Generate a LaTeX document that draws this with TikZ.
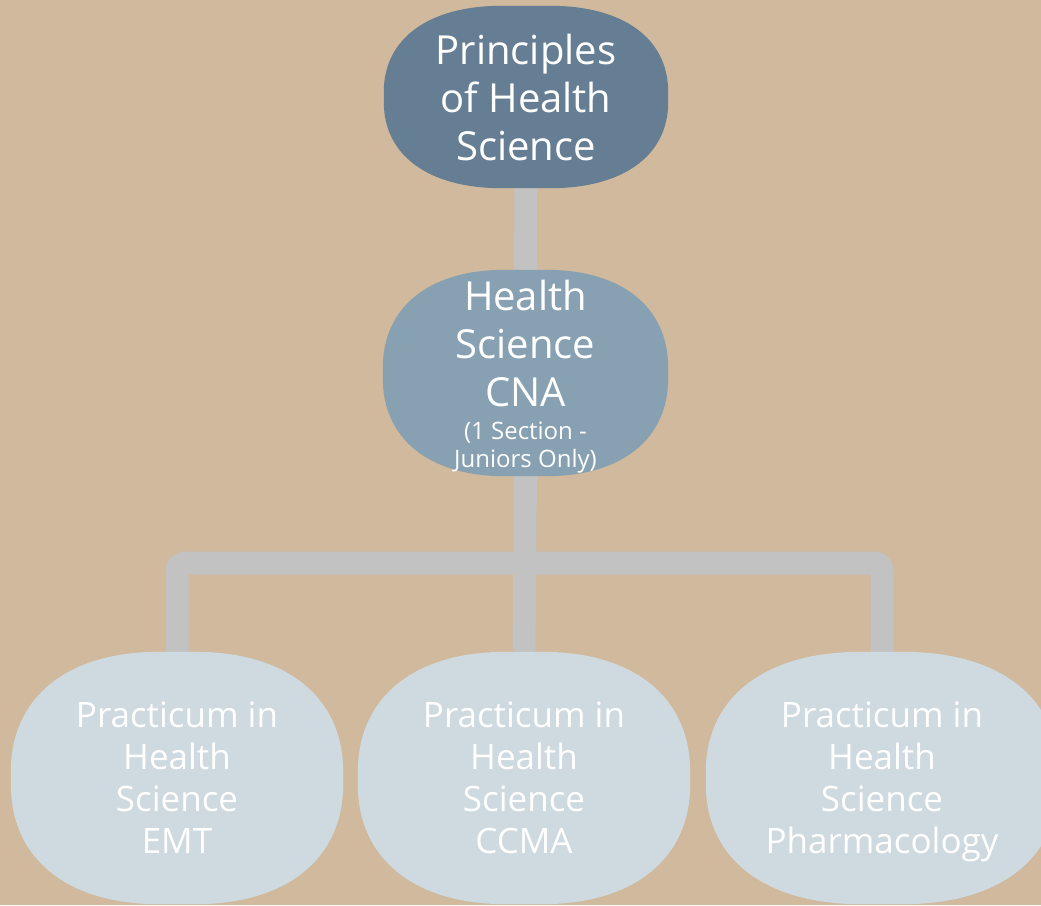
\documentclass[tikz,border=0pt]{standalone}
\usepackage{fontspec}
\setmainfont{Open Sans}
\usetikzlibrary{calc}
\definecolor{bgtan}{HTML}{D0B99C}
\definecolor{topc}{HTML}{667E93}
\definecolor{midc}{HTML}{87A0B2}
\definecolor{botc}{HTML}{CED9E0}
\definecolor{connc}{HTML}{C2C2C2}
\pgfdeclarelayer{bg}
\pgfdeclarelayer{shapes}
\pgfsetlayers{bg,shapes,main}
\tikzset{
  box/.style={draw=none, text=white, align=center, inner sep=0pt},
  conn/.style={draw=connc, line width=23pt},
}
\newcommand\nodepth[1]{\raisebox{0pt}[\height][0pt]{#1}}
% #1 node, #2 rx, #3 ry, #4 bulge factor, #5 colour
\newcommand\blobshape[5]{%
  \fill[#5] let \p1=(#1.north west), \p2=(#1.south east) in
    (\x1+#2,\y1) -- (\x2-#2,\y1)
    .. controls (\x2-#2+#4*#2,\y1) and (\x2,\y1-#3+#4*#3) .. (\x2,\y1-#3)
    -- (\x2,\y2+#3)
    .. controls (\x2,\y2+#3-#4*#3) and (\x2-#2+#4*#2,\y2) .. (\x2-#2,\y2)
    -- (\x1+#2,\y2)
    .. controls (\x1+#2-#4*#2,\y2) and (\x1,\y2+#3-#4*#3) .. (\x1,\y2+#3)
    -- (\x1,\y1-#3)
    .. controls (\x1,\y1-#3+#4*#3) and (\x1+#2-#4*#2,\y1) .. (\x1+#2,\y1)
    -- cycle;}
\begin{document}
\begin{tikzpicture}[x=1pt,y=-1pt]
\useasboundingbox (0,0) rectangle (1041,905);
\clip (0,0) rectangle (1041,905);
\node[box, minimum width=284pt, minimum height=182pt,
      font=\fontsize{40}{48}\selectfont] (top) at (526,97) {Principles\\of Health\\Science};
\node[box, minimum width=285pt, minimum height=206pt,
      font=\fontsize{40}{48}\selectfont] (mid) at (525.5,373)
      {\rule{0pt}{38pt}Health\\Science\\CNA\\[-15pt]{\fontsize{24}{28}\selectfont (1 Section -}\\[-20pt]{\fontsize{24}{28}\selectfont Juniors Only)}};
\node[box, minimum width=332pt, minimum height=252pt,
      font=\fontsize{35}{42}\selectfont] (emt) at (177,778) {Practicum in\\Health\\Science\\\nodepth{EMT}};
\node[box, minimum width=332pt, minimum height=252pt,
      font=\fontsize{35}{42}\selectfont] (ccma) at (524,778) {Practicum in\\Health\\Science\\\nodepth{CCMA}};
\node[box, minimum width=352pt, minimum height=252pt,
      font=\fontsize{35}{42}\selectfont] (pharm) at (882,778) {Practicum in\\Health\\Science\\\nodepth{Pharmacology}};
\coordinate (bar) at (0,563);
\begin{pgfonlayer}{shapes}
  \blobshape{top}{118pt}{86pt}{0.62}{topc}
  \blobshape{mid}{122pt}{98pt}{0.62}{midc}
  \blobshape{emt}{148pt}{120pt}{0.62}{botc}
  \blobshape{ccma}{148pt}{120pt}{0.62}{botc}
  \blobshape{pharm}{155pt}{120pt}{0.62}{botc}
\end{pgfonlayer}
\begin{pgfonlayer}{bg}
  \fill[bgtan] (0,0) rectangle (1041,905);
  \draw[conn] (top.south) -- (mid.north);
  \draw[conn] (mid.south) -- (ccma.north);
  \draw[conn, rounded corners=8pt] (emt.north) -- (emt.north |- bar) -- (pharm.north |- bar) -- (pharm.north);
\end{pgfonlayer}
\end{tikzpicture}
\end{document}
